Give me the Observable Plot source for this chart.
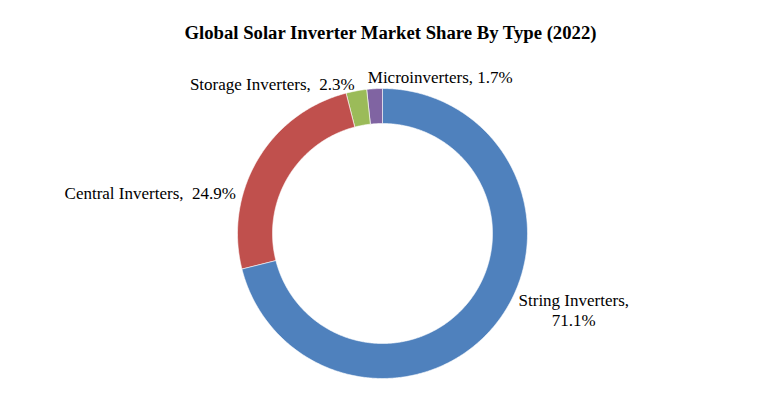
<!DOCTYPE html>
<html>
<head>
<meta charset="utf-8">
<script src="https://cdn.jsdelivr.net/npm/d3@7"></script>
<script src="https://cdn.jsdelivr.net/npm/@observablehq/plot@0.6"></script>
<style>
  body { margin: 0; background: #fff; }
  #wrap { position: relative; width: 781px; height: 398px; overflow: hidden; }
  #title { position: absolute; left: 0; top: 0; width: 781px; height: 50px; text-align: center;
    font-family: "Liberation Serif", "Times New Roman", serif; font-weight: bold; font-size: 18.7px;
    line-height: 19px; padding-top: 23px; box-sizing: border-box; color: #000; }
  #chart { position: absolute; left: 0; top: 50px; }
</style>
</head>
<body>
<div id="wrap">
  <div id="title">Global Solar Inverter Market Share By Type (2022)</div>
  <div id="chart"></div>
</div>
<script>
const categories = ["String Inverters", "Central Inverters", "Storage Inverters", "Microinverters"];
const shares = [71.1, 24.9, 2.3, 1.7];
const labelTexts = ["String Inverters,\n71.1%", "Central Inverters,  24.9%", "Storage Inverters,  2.3%", "Microinverters, 1.7%"];
const colors = ["#4F81BD", "#C0504D", "#9BBB59", "#8064A2"];

// styling for labels (offsets relative to outer mid-arc point)
const labelStyle = [
  {dx: 77, dy: -13, anchor: "middle"},
  {dx: -22, dy: 33, anchor: "end"},
  {dx: -2, dy: -7, anchor: "end"},
  {dx: -7, dy: -12, anchor: "start"}
];

const innerRatio = 110 / 145;
const total = d3.sum(shares);
let cum = 0;
const slices = categories.map((c, i) => {
  const a0 = cum / total * 2 * Math.PI;
  cum += shares[i];
  const a1 = cum / total * 2 * Math.PI;
  return {type: c, a0, a1, mid: (a0 + a1) / 2, i};
});

// polygon points for each ring slice (derived from data angles)
const pts = [];
for (const s of slices) {
  const n = Math.max(4, Math.ceil((s.a1 - s.a0) / (Math.PI / 180) * 2));
  for (let k = 0; k <= n; k++) {
    const a = s.a0 + (s.a1 - s.a0) * k / n;
    pts.push({type: s.type, x: Math.sin(a), y: Math.cos(a)});
  }
  for (let k = n; k >= 0; k--) {
    const a = s.a0 + (s.a1 - s.a0) * k / n;
    pts.push({type: s.type, x: innerRatio * Math.sin(a), y: innerRatio * Math.cos(a)});
  }
}

const labelMarks = slices.map((s, i) => Plot.text([{x: Math.sin(s.mid), y: Math.cos(s.mid), t: labelTexts[i]}], {
  x: "x", y: "y", text: "t",
  dx: labelStyle[i].dx, dy: labelStyle[i].dy, textAnchor: labelStyle[i].anchor,
  fontSize: 17, fill: "#000", lineHeight: 1.2,
  fontFamily: "Liberation Serif, Times New Roman, serif"
}));

const plot = Plot.plot({
  width: 781,
  height: 348,
  marginLeft: 237,
  marginRight: 254,
  marginTop: 38,
  marginBottom: 20,
  x: {domain: [-1, 1], axis: null},
  y: {domain: [-1, 1], axis: null},
  color: {domain: categories, range: colors},
  style: {background: "transparent", overflow: "visible"},
  marks: [
    Plot.line(pts, {x: "x", y: "y", z: "type", fill: "type", stroke: "#fff", strokeWidth: 0.6, curve: "linear-closed"}),
    ...labelMarks
  ]
});
document.getElementById("chart").appendChild(plot);
</script>
</body>
</html>
